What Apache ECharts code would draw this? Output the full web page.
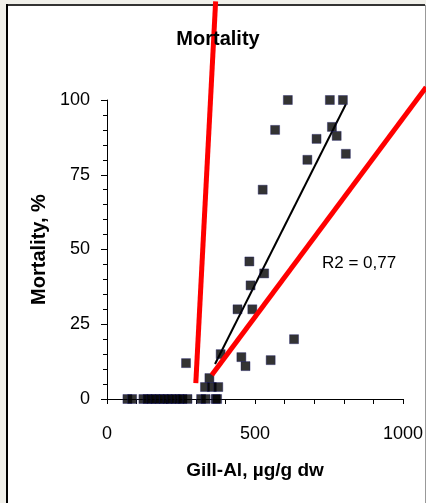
<!DOCTYPE html>
<html><head><meta charset="utf-8">
<script src="https://cdn.jsdelivr.net/npm/echarts@6/dist/echarts.min.js"></script>
<style>html,body{margin:0;padding:0;background:#f1f0ea;}#c{width:426px;height:503px;}</style>
</head><body><div id="c"></div>
<script>
// Gill-Al (µg/g dw) vs mortality (%)
const gillAl = [69, 85, 123, 137, 150, 164, 178, 192, 205, 218, 232, 245, 255, 272, 318, 333, 367, 372,
  267, 331, 354, 376, 346, 384, 454, 468, 553, 632, 441, 491, 485, 531, 481, 526,
  677, 807, 708, 776, 760, 568, 611, 753, 797];
const mortality = [0, 0, 0, 0, 0, 0, 0, 0, 0, 0, 0, 0, 0, 0, 0, 0, 0, 0,
  12, 4, 4, 4, 7, 15, 14, 11, 13, 20, 30, 30, 38, 42, 46, 70,
  80, 82, 87, 88, 91, 90, 100, 100, 100];
const trendX = [365, 807];
const trendY = [11.7, 98.6];
const redLine1X = [300, 367];
const redLine1Y = [5.3, 133];
const redLine2X = [354, 1078];
const redLine2Y = [8, 104.3];
const xLabelStep = 500;
const yLabelStep = 25;

const pts = gillAl.map((x, i) => [x, mortality[i]]);
const pair = (xs, ys) => xs.map((x, i) => [x, ys[i]]);
const FONT = 'Arial, "Liberation Sans", sans-serif';

const chart = echarts.init(document.getElementById('c'), null, {renderer: 'canvas'});
chart.setOption({
  animation: false,
  backgroundColor: '#f1f0ea',
  graphic: [
    {type: 'rect', shape: {x: 7, y: 5, width: 418, height: 510}, style: {fill: '#ffffff', stroke: 'none'}, z: -10},
    {type: 'line', shape: {x1: 6, y1: 5, x2: 425, y2: 5}, style: {stroke: '#333', lineWidth: 2}, z: -9},
    {type: 'line', shape: {x1: 7, y1: 4, x2: 7, y2: 503}, style: {stroke: '#000', lineWidth: 2}, z: -9},
    {type: 'line', shape: {x1: 425.5, y1: 5, x2: 425.5, y2: 503}, style: {stroke: '#999', lineWidth: 1}, z: -9},
    {type: 'text', left: 322, top: 255, style: {text: 'R2 = 0,77', font: '17px ' + FONT, fill: '#000'}}
  ],
  title: {
    text: 'Mortality', left: 213, top: 24, textAlign: 'center',
    textStyle: {fontSize: 20, fontWeight: 'bold', color: '#000', fontFamily: FONT}
  },
  grid: [
    {left: 107, right: 23, top: 100, bottom: 104, containLabel: false},
    {left: 107, right: 0, top: 100, bottom: 104, containLabel: false}
  ],
  xAxis: [{
    type: 'value', gridIndex: 0, min: 0, max: 1000, interval: xLabelStep,
    name: 'Gill-Al, µg/g dw', nameLocation: 'middle', nameGap: 62,
    nameTextStyle: {fontSize: 19, fontWeight: 'bold', color: '#000', fontFamily: FONT},
    axisLine: {show: true, onZero: false, lineStyle: {color: '#000', width: 1}},
    axisTick: {show: true, length: 5, lineStyle: {color: '#000'}},
    minorTick: {show: true, splitNumber: 5, length: 5, lineStyle: {color: '#000'}},
    axisLabel: {fontSize: 18, color: '#000', margin: 26, fontFamily: FONT, formatter: v => String(v)},
    splitLine: {show: false}
  }, {
    type: 'value', gridIndex: 1, min: 0, max: 1077.7, show: false
  }],
  yAxis: [{
    type: 'value', gridIndex: 0, min: 0, max: 100, interval: yLabelStep,
    name: 'Mortality, %', nameLocation: 'middle', nameGap: 57,
    nameTextStyle: {fontSize: 20, fontWeight: 'bold', color: '#000', fontFamily: FONT},
    axisLine: {show: true, onZero: false, lineStyle: {color: '#000', width: 1}},
    axisTick: {show: true, length: 6, lineStyle: {color: '#000'}},
    minorTick: {show: true, splitNumber: 5, length: 4, lineStyle: {color: '#000'}},
    axisLabel: {fontSize: 18, color: '#000', margin: 17, fontFamily: FONT},
    splitLine: {show: false}
  }, {
    type: 'value', gridIndex: 1, min: 0, max: 100, show: false
  }],
  series: [
    {type: 'line', data: pair(trendX, trendY), symbol: 'none', lineStyle: {color: '#000', width: 2}, z: 2},
    {type: 'scatter', data: pts, symbol: 'rect', symbolSize: 9, itemStyle: {color: '#000', borderColor: '#1a1a66', borderWidth: 0.5}, z: 3},
    {type: 'line', data: pair(redLine1X, redLine1Y), symbol: 'none', clip: false, lineStyle: {color: '#ff0000', width: 5}, z: 5},
    {type: 'line', xAxisIndex: 1, yAxisIndex: 1, data: pair(redLine2X, redLine2Y), symbol: 'none', clip: false, lineStyle: {color: '#ff0000', width: 5}, z: 5}
  ]
});
</script></body></html>
